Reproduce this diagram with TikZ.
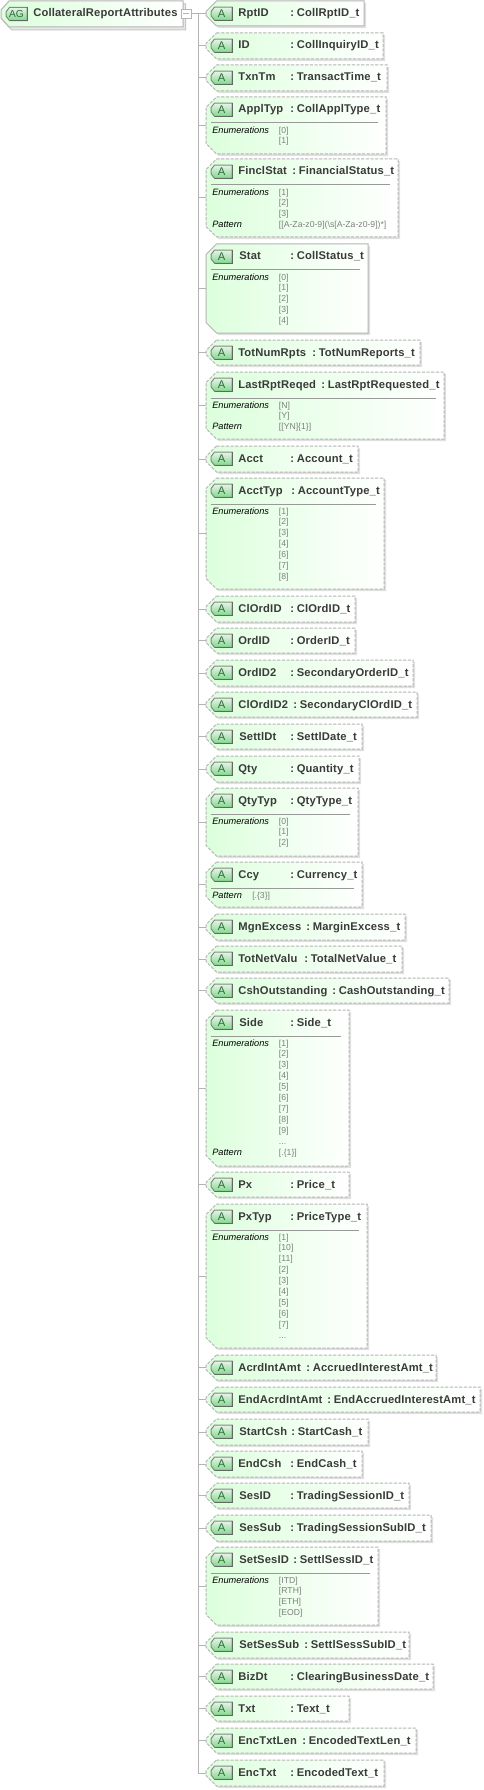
\documentclass[tikz,border=0pt]{standalone}
\usepackage{fontspec}
\setmainfont{Liberation Sans}
\newfontfamily\namefont[LetterSpace=1.5]{Liberation Sans}
\usetikzlibrary{calc}
\definecolor{boxgreen}{HTML}{DCFFDC}
\definecolor{edgegray}{HTML}{B4B4B4}
\definecolor{nametxt}{HTML}{3A3A3A}
\definecolor{valtxt}{HTML}{808080}
\definecolor{icondark}{HTML}{808A80}
\definecolor{icontop}{HTML}{EAF3EA}
\definecolor{iconbot}{HTML}{7FD98A}
\definecolor{icontext}{HTML}{2E6B3C}
\tikzset{
  frame/.style={rectangle, inner sep=0pt, outer sep=0pt},
  boxskin/.style={line width=0.75pt, draw=edgegray, left color=boxgreen, right color=white},
  dashbox/.style={boxskin, dash pattern=on 2.4pt off 1.1pt},
  solidbox/.style={boxskin},
  shadowskin/.style={fill=black!12, transform canvas={xshift=1.6pt,yshift=-1.6pt}},
  iconskin/.style={line width=0.75pt, draw=icondark, top color=icontop, bottom color=iconbot},
  iconedge/.style={line width=0.75pt, draw=black!60},
  icontxt/.style={inner sep=0pt, text=icontext, font=\fontsize{8.4pt}{9pt}\selectfont},
  nametext/.style={anchor=base west, inner sep=0pt, text=nametxt, font=\namefont\bfseries\fontsize{8.4pt}{10pt}\selectfont},
  labtext/.style={anchor=base west, inner sep=0pt, text=black, font=\itshape\fontsize{6.9pt}{9pt}\selectfont},
  valtext/.style={anchor=base west, inner sep=0pt, text=valtxt, font=\fontsize{6.5pt}{9pt}\selectfont},
  branch/.style={draw=edgegray, line width=0.75pt},
  divider/.style={draw=edgegray!85!black, line width=0.75pt},
}
% node, dx, dy, options : chamfered outline on a rectangular frame node
\newcommand{\chamf}[4]{%
  \path[#4] ($(#1.north west)+(#2,0)$) -- (#1.north east) -- (#1.south east)
    -- ($(#1.south west)+(#2,0)$) -- ($(#1.south west)+(0,-#3)$) -- ($(#1.north west)+(0,#3)$) -- cycle;
}
\newcommand{\iconat}[5]{% id, cx, cy, text, font size
  \node[frame, minimum width=15.75pt, minimum height=9.9pt] (#1-iconframe) at (#2,#3) {};
  \chamf{#1-iconframe}{3.5}{4.5}{iconskin}
  \draw[iconedge] ($(#1-iconframe.south west)+(3.5,0)$) -- (#1-iconframe.south east) -- (#1-iconframe.north east);
  \node[icontxt, font=\fontsize{#5}{9pt}\selectfont] (#1-icon) at (#1-iconframe.center) {#4};
}
% id top bottom right style nameX name colonX type
\newcommand{\attr}[9]{%
  \pgfmathsetmacro{\cy}{(#2+#3)/2}%
  \pgfmathsetmacro{\cx}{(206+#4)/2}%
  \pgfmathsetmacro{\bw}{(#4-206)*0.75}%
  \pgfmathsetmacro{\bh}{(#3-#2)*0.75}%
  \node[frame, minimum width=\bw pt, minimum height=\bh pt] (#1) at (\cx,\cy) {};
  \draw[branch] (#1.west -| trunkT) -- (#1.west);
  \chamf{#1}{10.5}{10.5}{shadowskin}
  \chamf{#1}{10.5}{10.5}{#5}
  \pgfmathsetmacro{\iy}{#2+12.7}%
  \iconat{#1}{221.5}{\iy}{A}{8.4pt}
  \pgfmathsetmacro{\ty}{#2+16}%
  \node[nametext] (#1-name) at (#6,\ty) {#7};
  \node[nametext] (#1-colon) at (#8,\ty) {:};
  \node[nametext] (#1-type) at (#8+6.5,\ty) {#9};
}
\newcommand{\sectline}[3]{% id top right
  \coordinate (#1-dl) at (210.5,#2+26);
  \coordinate (#1-dr) at (#3-8,#2+26);
  \draw[divider] (#1-dl) -- (#1-dr);
}
\newcommand{\lineY}[2]{\pgfmathsetmacro{\ly}{#1+33.7+3.2+ifthenelse(#2>0,10+11*(#2-1),0)}}
\newcommand{\lab}[4]{\lineY{#2}{#3}\node[labtext] (#1-l#3) at (212,\ly) {#4};}
\newcommand{\val}[5]{\lineY{#2}{#3}\node[valtext] (#1-v#3) at (#4,\ly) {#5};}
\newcommand{\enums}[3]{% id top list
  \lab{#1}{#2}{0}{Enumerations}
  \foreach \vv [count=\nn from 0] in {#3} {\val{#1}{#2}{\nn}{278.7}{\vv}}
}
\begin{document}
\begin{tikzpicture}[x=0.75pt,y=-0.75pt]
\useasboundingbox (0,0) rectangle (483,1790);
\fill[white] (0,0) rectangle (483,1790);
\coordinate (trunkT) at (198.3,14);
\coordinate (trunkB) at (198.3,1773);
% root
\node[frame, minimum width=136.5pt, minimum height=19.5pt] (rootback) at (94.5,16.8) {};
\chamf{rootback}{8}{9}{fill=black!9, draw=edgegray!75, line width=0.75pt}
\node[frame, minimum width=136.5pt, minimum height=19.5pt] (root) at (92,14) {};
\chamf{root}{8}{9}{boxskin}
\iconat{root}{16.5}{14}{AG}{7.6pt}
\node[nametext] (rootname) at (33,16.6) {CollateralReportAttributes};
\node[rectangle, draw=edgegray, fill=white, line width=0.75pt, inner sep=0pt, minimum width=7pt, minimum height=6.75pt] (coll) at (186.4,14) {};
\coordinate (collL) at ($(coll.center)+(-3,0)$);
\coordinate (collR) at ($(coll.center)+(3,0)$);
\draw[edgegray, line width=0.75pt] (collL) -- (collR);
\draw[branch] (coll.east) -- (trunkT);
\draw[branch] (trunkT) -- (trunkB);

\attr{a1}{1}{26}{364}{solidbox}{238}{RptID}{290}{CollRptID\_t}
\attr{a2}{33}{59}{383}{dashbox}{238}{ID}{290}{CollInquiryID\_t}
\attr{a3}{65}{91}{387}{dashbox}{238}{TxnTm}{290}{TransactTime\_t}
\attr{a4}{97}{154}{386}{dashbox}{238}{ApplTyp}{290}{CollApplType\_t}
\sectline{a4}{97}{386}\enums{a4}{97}{[0],[1]}
\attr{a5}{159}{237}{398}{dashbox}{238}{FinclStat}{292}{FinancialStatus\_t}
\sectline{a5}{159}{398}\enums{a5}{159}{[1],[2],[3]}
\lab{a5}{159}{3}{Pattern}\val{a5}{159}{3}{278.7}{[[A-Za-z0-9](\textbackslash s[A-Za-z0-9])*]}
\attr{a6}{244}{333}{368}{solidbox}{239}{Stat}{290}{CollStatus\_t}
\sectline{a6}{244}{368}\enums{a6}{244}{[0],[1],[2],[3],[4]}
\attr{a7}{340}{365}{420}{dashbox}{238}{TotNumRpts}{312}{TotNumReports\_t}
\attr{a8}{372}{439}{444}{dashbox}{238}{LastRptReqed}{321}{LastRptRequested\_t}
\sectline{a8}{372}{444}\enums{a8}{372}{[N],[Y]}
\lab{a8}{372}{2}{Pattern}\val{a8}{372}{2}{278.7}{[[YN]\{1\}]}
\attr{a9}{446}{472}{358}{dashbox}{238}{Acct}{290}{Account\_t}
\attr{a10}{478}{589}{384}{dashbox}{238}{AcctTyp}{291}{AccountType\_t}
\sectline{a10}{478}{384}\enums{a10}{478}{[1],[2],[3],[4],[6],[7],[8]}
\attr{a11}{596}{622}{355}{dashbox}{238}{ClOrdID}{290}{ClOrdID\_t}
\attr{a12}{628}{653}{355}{dashbox}{238}{OrdID}{290}{OrderID\_t}
\attr{a13}{660}{686}{413}{dashbox}{238}{OrdID2}{290}{SecondaryOrderID\_t}
\attr{a14}{692}{717}{417}{dashbox}{238}{ClOrdID2}{293}{SecondaryClOrdID\_t}
\attr{a15}{724}{749}{362}{dashbox}{239}{SettlDt}{290}{SettlDate\_t}
\attr{a16}{756}{782}{359}{dashbox}{238}{Qty}{290}{Quantity\_t}
\attr{a17}{788}{856}{358}{dashbox}{238}{QtyTyp}{290}{QtyType\_t}
\sectline{a17}{788}{358}\enums{a17}{788}{[0],[1],[2]}
\attr{a18}{862}{907}{362}{dashbox}{238}{Ccy}{290}{Currency\_t}
\sectline{a18}{862}{362}
\lab{a18}{862}{0}{Pattern}\val{a18}{862}{0}{252}{[.\{3\}]}
\attr{a19}{914}{940}{405}{dashbox}{238}{MgnExcess}{306}{MarginExcess\_t}
\attr{a20}{946}{972}{402}{dashbox}{238}{TotNetValu}{304}{TotalNetValue\_t}
\attr{a21}{978}{1003}{449}{dashbox}{238}{CshOutstanding}{332}{CashOutstanding\_t}
\attr{a22}{1010}{1166}{349}{dashbox}{239}{Side}{290}{Side\_t}
\sectline{a22}{1010}{349}\enums{a22}{1010}{[1],[2],[3],[4],[5],[6],[7],[8],[9]}
\val{a22}{1010}{9}{278.7}{...}
\lab{a22}{1010}{10}{Pattern}\val{a22}{1010}{10}{278.7}{[.\{1\}]}
\attr{a23}{1172}{1197}{349}{dashbox}{238}{Px}{290}{Price\_t}
\attr{a24}{1204}{1348}{367}{dashbox}{238}{PxTyp}{290}{PriceType\_t}
\sectline{a24}{1204}{367}\enums{a24}{1204}{[1],[10],[11],[2],[3],[4],[5],[6],[7]}
\val{a24}{1204}{9}{278.7}{...}
\attr{a25}{1355}{1380}{436}{dashbox}{238}{AcrdIntAmt}{306}{AccruedInterestAmt\_t}
\attr{a26}{1387}{1412}{480}{dashbox}{238}{EndAcrdIntAmt}{327}{EndAccruedInterestAmt\_t}
\attr{a27}{1419}{1445}{368}{dashbox}{239}{StartCsh}{291}{StartCash\_t}
\attr{a28}{1451}{1477}{362}{dashbox}{238}{EndCsh}{290}{EndCash\_t}
\attr{a29}{1483}{1508}{409}{dashbox}{239}{SesID}{290}{TradingSessionID\_t}
\attr{a30}{1515}{1541}{431}{dashbox}{239}{SesSub}{290}{TradingSessionSubID\_t}
\attr{a31}{1547}{1625}{378}{dashbox}{239}{SetSesID}{293}{SettlSessID\_t}
\sectline{a31}{1547}{378}\enums{a31}{1547}{[ITD],[RTH],[ETH],[EOD]}
\attr{a32}{1632}{1658}{409}{dashbox}{239}{SetSesSub}{304}{SettlSessSubID\_t}
\attr{a33}{1664}{1689}{433}{dashbox}{238}{BizDt}{290}{ClearingBusinessDate\_t}
\attr{a34}{1696}{1721}{349}{dashbox}{238}{Txt}{290}{Text\_t}
\attr{a35}{1728}{1753}{416}{dashbox}{238}{EncTxtLen}{302}{EncodedTextLen\_t}
\attr{a36}{1760}{1786}{384}{dashbox}{238}{EncTxt}{290}{EncodedText\_t}
\end{tikzpicture}
\end{document}
